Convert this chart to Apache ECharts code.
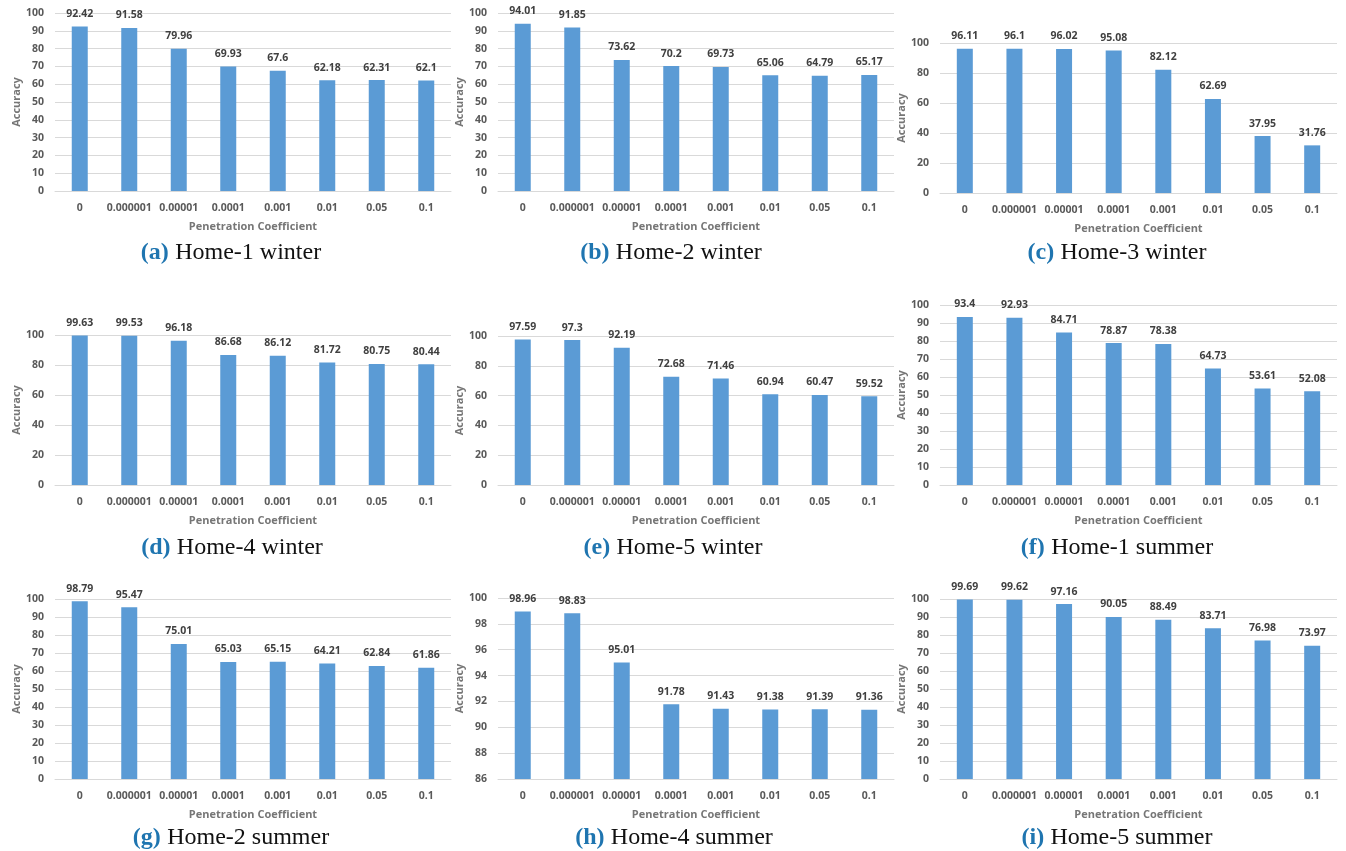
<!DOCTYPE html>
<html>
<head>
<meta charset="utf-8">
<script src="https://cdn.jsdelivr.net/npm/echarts@6/dist/echarts.min.js"></script>
<style>
  html, body { margin: 0; padding: 0; background: #ffffff; }
  #chart { width: 1346px; height: 851px; }
</style>
</head>
<body>
<div id="chart"></div>
<script>
// Penetration coefficients shared by every panel
const coefficients = ['0', '0.000001', '0.00001', '0.0001', '0.001', '0.01', '0.05', '0.1'];

// Accuracy (%) per home and season
const home1Winter = [92.42, 91.58, 79.96, 69.93, 67.6, 62.18, 62.31, 62.1];
const home2Winter = [94.01, 91.85, 73.62, 70.2, 69.73, 65.06, 64.79, 65.17];
const home3Winter = [96.11, 96.1, 96.02, 95.08, 82.12, 62.69, 37.95, 31.76];
const home4Winter = [99.63, 99.53, 96.18, 86.68, 86.12, 81.72, 80.75, 80.44];
const home5Winter = [97.59, 97.3, 92.19, 72.68, 71.46, 60.94, 60.47, 59.52];
const home1Summer = [93.4, 92.93, 84.71, 78.87, 78.38, 64.73, 53.61, 52.08];
const home2Summer = [98.79, 95.47, 75.01, 65.03, 65.15, 64.21, 62.84, 61.86];
const home4Summer = [98.96, 98.83, 95.01, 91.78, 91.43, 91.38, 91.39, 91.36];
const home5Summer = [99.69, 99.62, 97.16, 90.05, 88.49, 83.71, 76.98, 73.97];

// Panel letters and captions
const panelLetters = ['(a)', '(b)', '(c)', '(d)', '(e)', '(f)', '(g)', '(h)', '(i)'];
const panelCaptions = ['Home-1 winter', 'Home-2 winter', 'Home-3 winter',
                       'Home-4 winter', 'Home-5 winter', 'Home-1 summer',
                       'Home-2 summer', 'Home-4 summer', 'Home-5 summer'];

// y-axis ranges per panel: [min, max, interval]
const axisRanges = [
  [0, 100, 10], [0, 100, 10], [0, 100, 20],
  [0, 100, 20], [0, 100, 20], [0, 100, 10],
  [0, 100, 10], [86, 100, 2], [0, 100, 10]
];

const seriesData = [home1Winter, home2Winter, home3Winter,
                    home4Winter, home5Winter, home1Summer,
                    home2Summer, home4Summer, home5Summer];

// Plot rectangles (left, top, width, height) and caption centres
const plotBoxes = [
  [55, 13, 396, 178], [498, 13, 396, 178], [940, 43, 397, 150],
  [55, 335, 396, 150], [498, 336, 396, 149], [940, 305, 397, 180],
  [55, 599, 396, 180], [498, 598, 396, 181], [940, 599, 397, 180]
];
const captionPos = [
  [231, 253], [671, 253], [1117, 253],
  [232, 548], [673, 548], [1117, 548],
  [231, 838], [674, 838], [1117, 838]
];

const FONT = '"Open Sans", "Noto Sans", "Liberation Sans", sans-serif';
const SERIF = '"Liberation Serif", "DejaVu Serif", serif';
const BAR = '#5B9BD5';
const GRID = '#D9D9D9';

const grids = [], xAxes = [], yAxes = [], series = [], graphics = [];

seriesData.forEach((vals, i) => {
  const [l, t, w, h] = plotBoxes[i];
  grids.push({ left: l, top: t, width: w, height: h, containLabel: false });
  xAxes.push({
    type: 'category', gridIndex: i, data: coefficients,
    name: 'Penetration Coefficient', nameLocation: 'middle', nameGap: 30,
    nameTextStyle: { color: '#767676', fontFamily: FONT, fontWeight: 'bold', fontSize: 11 },
    axisLine: { show: true, lineStyle: { color: GRID, width: 1 } },
    axisTick: { show: false },
    axisLabel: { interval: 0, color: '#595959', fontFamily: FONT, fontWeight: 'bold', fontSize: 10.5, margin: 12 }
  });
  const [mn, mx, iv] = axisRanges[i];
  yAxes.push({
    type: 'value', gridIndex: i, min: mn, max: mx, interval: iv,
    name: 'Accuracy', nameLocation: 'middle', nameGap: 32, nameRotate: 90,
    nameTextStyle: { color: '#767676', fontFamily: FONT, fontWeight: 'bold', fontSize: 11 },
    axisLine: { show: false }, axisTick: { show: false },
    splitLine: { show: true, lineStyle: { color: GRID, width: 1 } },
    axisLabel: { color: '#595959', fontFamily: FONT, fontWeight: 'bold', fontSize: 10.5, margin: 11 }
  });
  series.push({
    type: 'bar', xAxisIndex: i, yAxisIndex: i, data: vals,
    barWidth: 16,
    itemStyle: { color: BAR },
    label: {
      show: true, position: 'top', distance: 7,
      color: '#404040', fontFamily: FONT, fontWeight: 'bold', fontSize: 10.5
    },
    silent: true
  });
  graphics.push({
    type: 'text', x: captionPos[i][0], y: captionPos[i][1],
    style: {
      text: '{l|' + panelLetters[i] + '} {t|' + panelCaptions[i] + '}',
      align: 'center', verticalAlign: 'middle',
      textAlign: 'center', textVerticalAlign: 'middle',
      rich: {
        l: { fontFamily: SERIF, fontWeight: 'bold', fontSize: 24, fill: '#1F75B0', color: '#1F75B0', padding: [0, 3, 0, 0] },
        t: { fontFamily: SERIF, fontSize: 24, fill: '#111111', color: '#111111' }
      }
    }
  });
});

const chart = echarts.init(document.getElementById('chart'), null, { renderer: 'canvas' });
chart.setOption({
  animation: false,
  backgroundColor: '#ffffff',
  grid: grids,
  xAxis: xAxes,
  yAxis: yAxes,
  series: series,
  graphic: graphics
});
</script>
</body>
</html>
